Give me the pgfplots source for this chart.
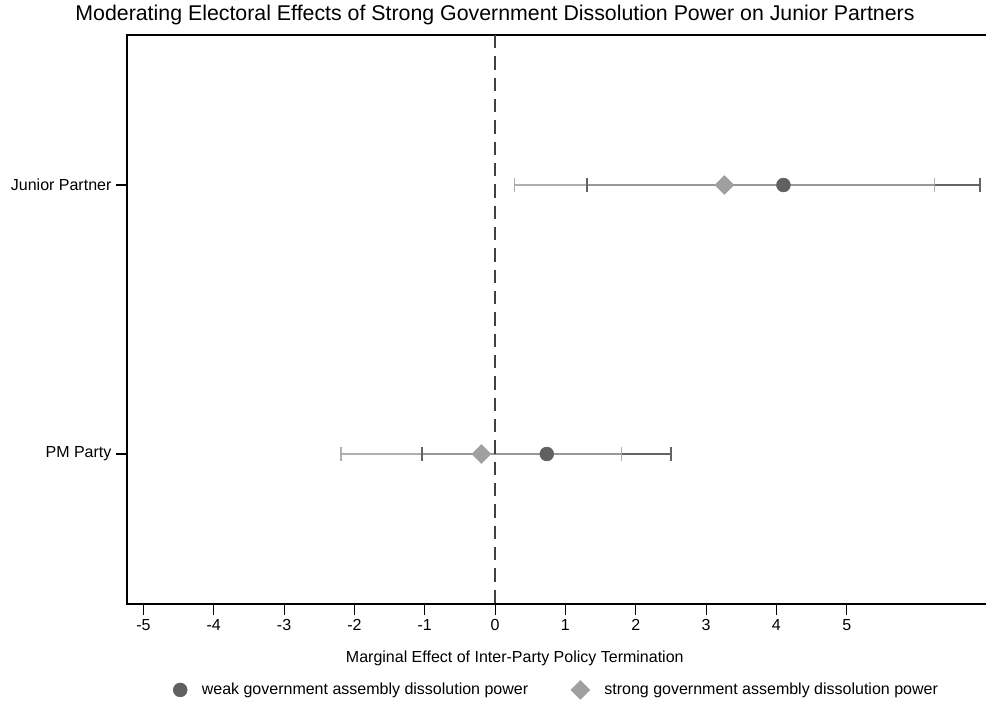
\documentclass[border=0pt]{standalone}
\usepackage{pgfplots}
\pgfplotsset{compat=1.18}
\usepackage{fontspec}
\setmainfont{Liberation Sans}
\definecolor{weakc}{HTML}{606060}
\definecolor{weakl}{HTML}{646464}
\definecolor{strongc}{HTML}{A0A0A0}
\definecolor{strongl}{HTML}{A2A2A2}
\definecolor{zeroc}{HTML}{404040}
\begin{document}
\begin{tikzpicture}
\begin{axis}[
  at={(0pt,0pt)}, anchor=south west,
  scale only axis, width=645.2pt, height=426.75pt,
  xmin=-5.236, xmax=6.995, ymin=0.4424, ymax=2.5576,
  xtick={-5,-4,-3,-2,-1,0,1,2,3,4,5},
  xticklabels={-5,-4,-3,-2,-1,0,1,2,3,4,5},
  ytick={1,2}, yticklabels={PM Party,Junior Partner},
  xtick pos=bottom, ytick pos=left,
  tick align=outside, major tick length=8pt,
  tick style={line width=0.8pt, black},
  axis line style={line width=1.2pt},
  ticklabel style={font=\fontsize{12}{14}\selectfont},
  title={Moderating Electoral Effects of Strong Government Dissolution Power on Junior Partners},
  title style={font=\fontsize{16}{18}\selectfont, at={(rel axis cs:0.428,1.012)}, anchor=base},
  xlabel={Marginal Effect of Inter-Party Policy Termination},
  xlabel style={font=\fontsize{12}{14}\selectfont, at={(rel axis cs:0.451,-0.0949)}, anchor=center},
  legend columns=2,
  legend style={draw=none, fill=none, at={(rel axis cs:0.5,-0.151)}, anchor=center,
    font=\fontsize{12}{14}\selectfont, /tikz/every even column/.append style={column sep=30pt}},
  legend cell align=left,
]
% confidence intervals, weak
\addplot[weakl, line width=1.7pt, mark=|, mark size=5pt, mark options={line width=1.1pt}, forget plot]
  coordinates {(1.31,2) (6.895,2)};
\addplot[weakl, line width=1.7pt, mark=|, mark size=5pt, mark options={line width=1.1pt}, forget plot]
  coordinates {(-1.04,1) (2.50,1)};
% confidence intervals, strong
\addplot[strongl, opacity=0.85, line width=1.7pt, mark=|, mark size=5pt, mark options={line width=1.1pt}, forget plot]
  coordinates {(0.275,2) (6.245,2)};
\addplot[strongl, opacity=0.85, line width=1.7pt, mark=|, mark size=5pt, mark options={line width=1.1pt}, forget plot]
  coordinates {(-2.19,1) (1.80,1)};
% zero line
\addplot[zeroc, line width=1.5pt, dash pattern=on 10pt off 6pt, forget plot]
  coordinates {(0,2.5576) (0,0.4424)};
% point estimates
\addplot[only marks, mark=*, mark size=5.2pt, color=weakc, mark options={fill=weakc, draw=weakc}]
  coordinates {(4.10,2) (0.735,1)};
\addlegendentry{\hspace{9pt}weak government assembly dissolution power}
\addplot[only marks, mark=square*, mark size=5pt, color=strongc, mark options={rotate=45, fill=strongc, draw=strongc}]
  coordinates {(3.26,2) (-0.195,1)};
\addlegendentry{\hspace{9pt}strong government assembly dissolution power}
\end{axis}
\pgfresetboundingbox
\path[use as bounding box] (-95.1pt,-75pt) rectangle (644.4pt,453pt);
\end{tikzpicture}
\end{document}
